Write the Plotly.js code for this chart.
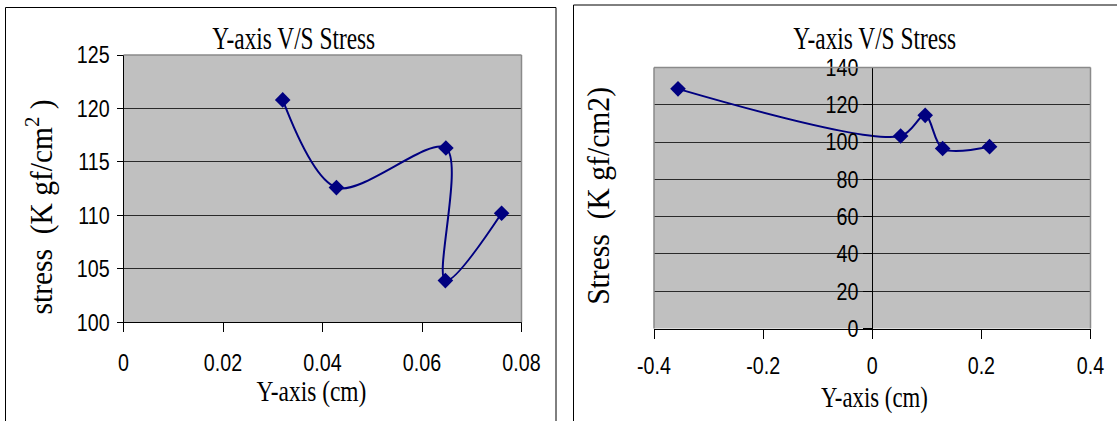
<!DOCTYPE html>
<html>
<head>
<meta charset="utf-8">
<script src="https://cdn.plot.ly/plotly-3.0.1.min.js"></script>
<style>
  html, body { margin: 0; padding: 0; background: #fff; }
  #chart { width: 1117px; height: 421px; }
</style>
</head>
<body>
<div id="chart"></div>
<script>
// ---- data ----
const leftX = [0.032, 0.0428, 0.0648, 0.0647, 0.076];
const leftY = [120.8, 112.6, 116.3, 103.9, 110.2];
const rightX = [-0.356, 0.052, 0.097, 0.129, 0.215];
const rightY = [128.5, 103.2, 114.3, 96.5, 97.5];

const chartTitle = 'Y-axis V/S Stress';
const xTitle = 'Y-axis (cm)';
const leftYTitle = 'stress  (K gf/cm<sup>2</sup> )';
const rightYTitle = 'Stress  (K gf/cm2)';

const leftXTickVals = [0, 0.02, 0.04, 0.06, 0.08];
const leftXTickText = ['0', '0.02', '0.04', '0.06', '0.08'];
const leftYTickVals = [100, 105, 110, 115, 120, 125];
const rightXTickVals = [-0.4, -0.2, 0, 0.2, 0.4];
const rightXTickText = ['-0.4', '-0.2', '0', '0.2', '0.4'];
const rightYTickVals = [0, 20, 40, 60, 80, 100, 120, 140];

// ---- styling ----
const W = 1117, H = 421;
const navy = '#000080';
const tickFont = { family: 'Liberation Sans, Arial, sans-serif', size: 24, color: '#000' };
const serif = 'Liberation Serif, Times New Roman, serif';

const px = v => v / W;
const py = v => 1 - v / H;

const lineStyle = { color: navy, width: 2, shape: 'spline', smoothing: 0.9 };
const markerStyle = { symbol: 'diamond', size: 12, color: navy };

const traces = [
  { x: leftX, y: leftY, type: 'scatter', mode: 'lines+markers', line: lineStyle, marker: markerStyle, xaxis: 'x', yaxis: 'y' },
  { x: rightX, y: rightY, type: 'scatter', mode: 'lines+markers', line: lineStyle, marker: markerStyle, xaxis: 'x2', yaxis: 'y2' }
];

const gridCol = '#2a2a2a';
const borderCol = '#8a8a8a';
const dom1x = [px(123.5), px(521.5)];
const dom1y = [py(322.3), py(55)];
const dom2x = [px(654), px(1090.5)];
const dom2y = [py(328.5), py(67.4)];

const layout = {
  width: W, height: H,
  margin: { l: 0, r: 0, t: 0, b: 0 },
  paper_bgcolor: '#fff',
  plot_bgcolor: '#C0C0C0',
  showlegend: false,
  xaxis: {
    domain: dom1x, anchor: 'y', range: [0, 0.08],
    tickvals: leftXTickVals, ticktext: leftXTickText,
    showgrid: false, zeroline: false,
    showline: true, linecolor: '#000', linewidth: 1,
    ticks: 'outside', ticklen: 9, tickcolor: '#000', tickwidth: 1,
    tickfont: tickFont, ticklabelstandoff: 10
  },
  yaxis: {
    domain: dom1y, anchor: 'x', range: [100, 125],
    tickvals: leftYTickVals,
    showgrid: true, gridcolor: gridCol, gridwidth: 1, zeroline: false,
    showline: true, linecolor: '#000', linewidth: 1,
    ticks: 'outside', ticklen: 6, tickcolor: '#000', tickwidth: 1,
    tickfont: tickFont, ticklabelstandoff: 2
  },
  xaxis2: {
    domain: dom2x, anchor: 'y2', range: [-0.4, 0.4],
    tickvals: rightXTickVals, ticktext: rightXTickText,
    showgrid: false, zeroline: false,
    showline: true, linecolor: '#000', linewidth: 1,
    ticks: 'outside', ticklen: 9, tickcolor: '#000', tickwidth: 1,
    tickfont: tickFont, ticklabelstandoff: 7
  },
  yaxis2: {
    domain: dom2y, anchor: 'free',
    position: (dom2x[0] + dom2x[1]) / 2, range: [0, 140],
    tickvals: rightYTickVals,
    showgrid: true, gridcolor: gridCol, gridwidth: 1, zeroline: false,
    showline: true, linecolor: '#000', linewidth: 1,
    ticks: 'outside', ticklen: 9, tickcolor: '#000', tickwidth: 1,
    tickfont: tickFont, ticklabelstandoff: 0
  },
  shapes: [
    // chart frames
    { type: 'rect', xref: 'paper', yref: 'paper', x0: px(5.5), x1: px(556), y0: -0.1, y1: py(7.5), line: { color: '#000', width: 1 } },
    { type: 'rect', xref: 'paper', yref: 'paper', x0: px(573.5), x1: 1.1, y0: -0.1, y1: py(5), line: { color: '#000', width: 1 } },
    // grey plot-area borders (top / right, and left for the second chart)
    { type: 'line', xref: 'paper', yref: 'paper', x0: dom1x[0], x1: dom1x[1], y0: dom1y[1], y1: dom1y[1], line: { color: borderCol, width: 1.5 } },
    { type: 'line', xref: 'paper', yref: 'paper', x0: dom1x[1], x1: dom1x[1], y0: dom1y[0], y1: dom1y[1], line: { color: borderCol, width: 1.5 } },
    { type: 'line', xref: 'paper', yref: 'paper', x0: dom2x[0], x1: dom2x[1], y0: dom2y[1], y1: dom2y[1], line: { color: borderCol, width: 1.5 } },
    { type: 'line', xref: 'paper', yref: 'paper', x0: dom2x[1], x1: dom2x[1], y0: dom2y[0], y1: dom2y[1], line: { color: borderCol, width: 1.5 } },
    { type: 'line', xref: 'paper', yref: 'paper', x0: dom2x[0], x1: dom2x[0], y0: dom2y[0], y1: dom2y[1], line: { color: borderCol, width: 1.5 } }
  ],
  annotations: [
    { text: chartTitle, xref: 'paper', yref: 'paper', x: px(293), y: py(38), xanchor: 'center', yanchor: 'middle', showarrow: false, font: { family: serif, size: 32, color: '#000' } },
    { text: chartTitle, xref: 'paper', yref: 'paper', x: px(874), y: py(38.5), xanchor: 'center', yanchor: 'middle', showarrow: false, font: { family: serif, size: 32, color: '#000' } },
    { text: xTitle, xref: 'paper', yref: 'paper', x: px(311), y: py(391), xanchor: 'center', yanchor: 'middle', showarrow: false, font: { family: serif, size: 30, color: '#000' } },
    { text: xTitle, xref: 'paper', yref: 'paper', x: px(874), y: py(397), xanchor: 'center', yanchor: 'middle', showarrow: false, font: { family: serif, size: 30, color: '#000' } },
    { text: leftYTitle, xref: 'paper', yref: 'paper', x: px(39), y: py(207), xanchor: 'center', yanchor: 'middle', textangle: -90, showarrow: false, font: { family: serif, size: 31, color: '#000' } },
    { text: rightYTitle, xref: 'paper', yref: 'paper', x: px(598), y: py(196), xanchor: 'center', yanchor: 'middle', textangle: -90, showarrow: false, font: { family: serif, size: 31, color: '#000' } }
  ]
};

// target text lengths (px) of the condensed lettering, in annotation order
const annoWidths = [163, 163, 110, 107, 215, 218];
const tickCondense = 0.82;

function condense(el, s, anchor) {
  const bb = el.getBBox();
  if (!bb || !bb.width) return;
  let cx = bb.x + bb.width / 2;
  if (anchor === 'end') cx = bb.x + bb.width;
  else if (anchor === 'start') cx = bb.x;
  const prev = el.getAttribute('transform') || '';
  el.setAttribute('transform', prev + ' translate(' + cx + ',0) scale(' + s + ',1) translate(' + (-cx) + ',0)');
}

Plotly.newPlot('chart', traces, layout, { displayModeBar: false }).then(() => {
  try {
    document.querySelectorAll('.annotation-text').forEach((t, i) => {
      const bb = t.getBBox();
      if (bb.width && annoWidths[i]) condense(t, annoWidths[i] / bb.width, 'middle');
    });
    document.querySelectorAll('g.xtick text, g.ytick text, g.x2tick text, g.y2tick text').forEach(t => {
      condense(t, tickCondense, t.getAttribute('text-anchor') || 'middle');
    });
  } catch (e) { console.log(e); }
});
</script>
</body>
</html>
